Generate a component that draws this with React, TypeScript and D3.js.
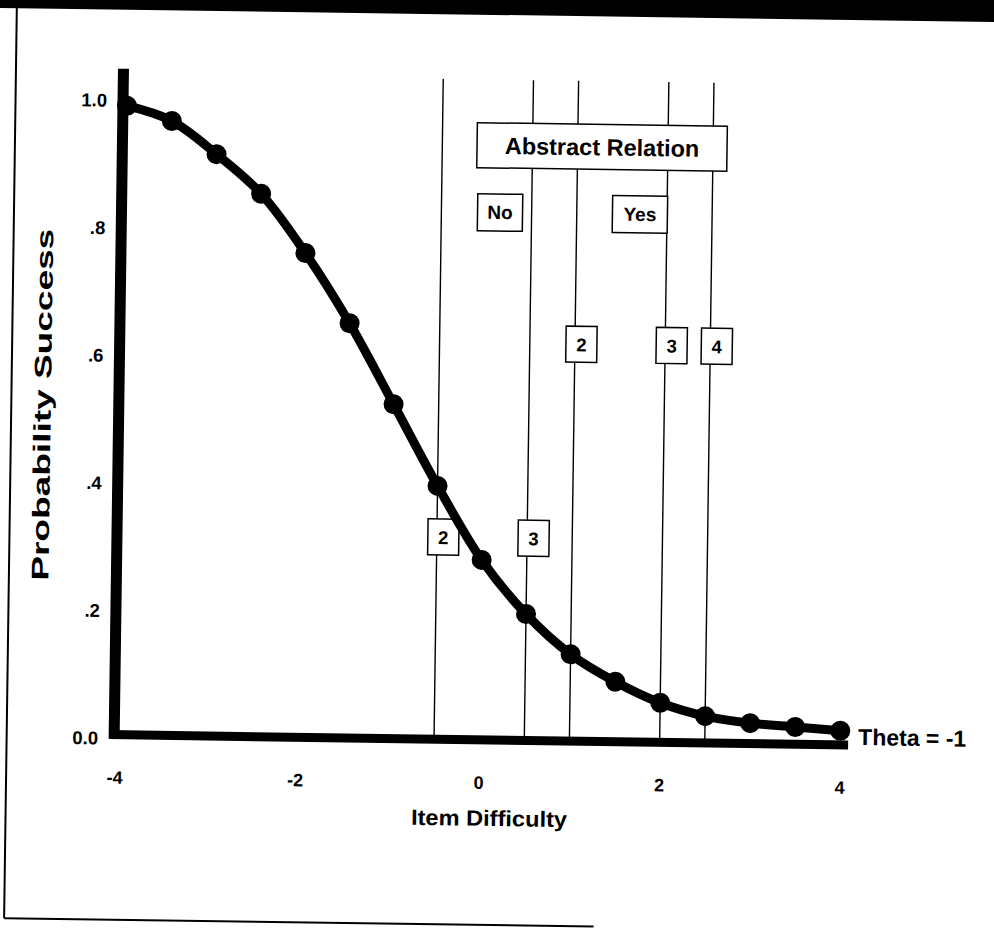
import * as d3 from "d3";

// item difficulty (x) and probability of success (y) at theta = -1
const difficulty = [-4, -3.5, -3, -2.5, -2, -1.5, -1, -0.5, 0, 0.5, 1, 1.5, 2, 2.5, 3, 3.5, 4];
const probability = [0.986, 0.963, 0.912, 0.851, 0.759, 0.65, 0.524, 0.397, 0.282, 0.198, 0.136, 0.094, 0.062, 0.042, 0.032, 0.027, 0.022];

const xTicks = [-4, -2, 0, 2, 4];
const yTicks = [0, 0.2, 0.4, 0.6, 0.8, 1];
const yTickLabels = ["0.0", ".2", ".4", ".6", ".8", "1.0"];

// vertical reference lines for items
const itemLines = [-0.5, 0.5, 1, 2, 2.5];
const itemLabels = ["2", "3", "2", "3", "4"];
const itemTier = ["low", "low", "high", "high", "high"];

const groupLabels = ["No", "Yes"];
const groupAt = [0.15, 1.7];
const headerLabel = "Abstract Relation";
const headerAt = 1.27;

const W = 994;
const H = 928;
const FONT = "'Liberation Sans', Arial, Helvetica, sans-serif";

export default function App() {
  const x = d3.scaleLinear().domain([-4, 4]).range([122, 844]);
  const y = d3.scaleLinear().domain([0, 1]).range([740, 102]);

  const pts: [number, number][] = difficulty.map((d, i) => [x(d), y(probability[i])]);
  const line = d3.line().curve(d3.curveCatmullRom)(pts) ?? "";

  const tierY: Record<string, number> = { low: y(0.317), high: y(0.622) };
  const lineTop = y(1.035);

  return (
    <svg
      width={W}
      height={H}
      style={{ position: "absolute", left: 0, top: 0, background: "#fff" }}
    >
      <g transform="rotate(0.8 497 464)" fontFamily={FONT} fontWeight="bold" fill="#000">
        {/* scan border */}
        <rect x={-60} y={-80} width={W + 120} height={95} fill="#000" />
        <line x1={10.5} y1={10} x2={10.5} y2={925} stroke="#000" strokeWidth={2} />
        <line x1={10.5} y1={925} x2={600} y2={925} stroke="#000" strokeWidth={2} />

        {/* item lines */}
        {itemLines.map((d, i) => (
          <line key={"l" + i} x1={x(d)} x2={x(d)} y1={lineTop} y2={y(0)} stroke="#000" strokeWidth={1.4} />
        ))}

        {/* header boxes */}
        <rect x={x(headerAt) - 125} y={123} width={250} height={45} fill="#fff" stroke="#000" strokeWidth={1.5} />
        <text x={x(headerAt)} y={154} textAnchor="middle" fontSize={23.5}>{headerLabel}</text>
        {groupLabels.map((g, i) => {
          const w = g.length > 2 ? 55 : 45;
          return (
            <g key={"g" + i}>
              <rect x={x(groupAt[i]) - w / 2} y={194} width={w} height={37} fill="#fff" stroke="#000" strokeWidth={1.5} />
              <text x={x(groupAt[i])} y={219} textAnchor="middle" fontSize={19}>{g}</text>
            </g>
          );
        })}

        {/* item number boxes */}
        {itemLines.map((d, i) => {
          const cx = x(d) + 6.5;
          const cy = tierY[itemTier[i]];
          return (
            <g key={"b" + i}>
              <rect x={cx - 15.5} y={cy - 18} width={31} height={36} fill="#fff" stroke="#000" strokeWidth={1.5} />
              <text x={cx} y={cy + 7} textAnchor="middle" fontSize={18.5}>{itemLabels[i]}</text>
            </g>
          );
        })}

        {/* axes */}
        <line x1={x(-4) - 4} x2={x(-4) - 4} y1={74} y2={y(0) + 4} stroke="#000" strokeWidth={11} />
        <line x1={x(-4) - 9} x2={852} y1={y(0)} y2={y(0)} stroke="#000" strokeWidth={9} />

        {yTicks.map((t, i) => (
          <text key={"y" + i} x={102} y={y(t) + 10} textAnchor="end" fontSize={18.5}>{yTickLabels[i]}</text>
        ))}
        {xTicks.map((t) => (
          <text key={"x" + t} x={x(t) - (t < 0 ? 3 : 0)} y={789} textAnchor="middle" fontSize={18}>{t}</text>
        ))}

        {/* curve */}
        <path d={line} fill="none" stroke="#000" strokeWidth={9} strokeLinejoin="round" />
        {pts.map((p, i) => (
          <circle key={"c" + i} cx={p[0]} cy={p[1]} r={10} fill="#000" />
        ))}

        <text x={862} y={740} fontSize={23}>Theta = -1</text>
        <text x={494} y={826} textAnchor="middle" fontSize={22} textLength={156} lengthAdjust="spacingAndGlyphs">Item Difficulty</text>
        <text
          transform="translate(50 411) rotate(-90)"
          textAnchor="middle"
          fontSize={24}
          textLength={352}
          lengthAdjust="spacingAndGlyphs"
        >
          Probability Success
        </text>
      </g>
    </svg>
  );
}
